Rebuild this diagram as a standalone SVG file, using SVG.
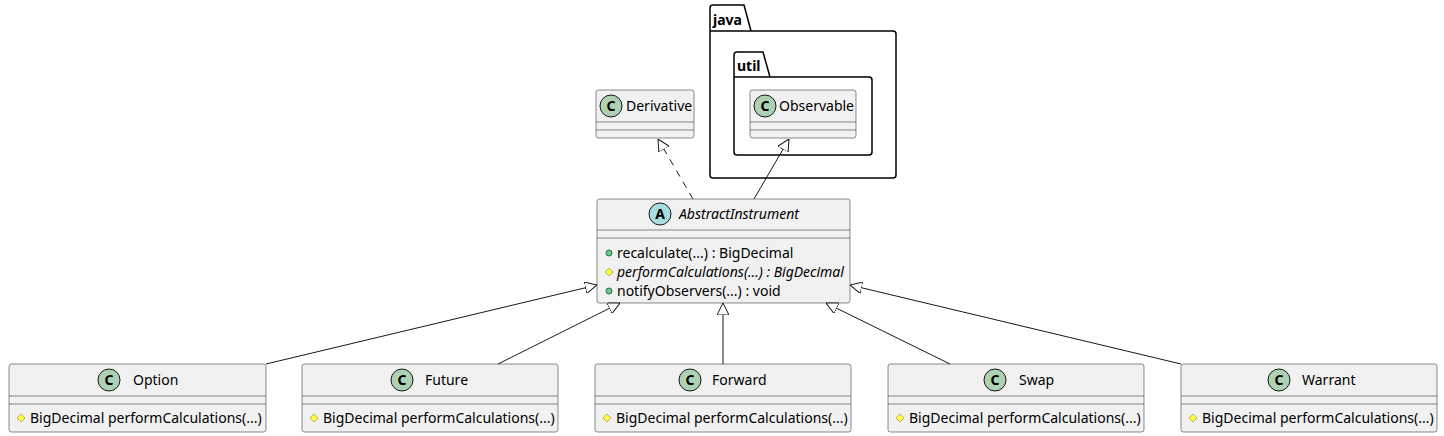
<svg xmlns="http://www.w3.org/2000/svg" width="1444" height="436" viewBox="0 0 1444 436">
<style>
text{font-family:"Noto Sans","DejaVu Sans",sans-serif;font-size:14px;fill:#000}
.box{fill:#f1f1f1;stroke:#181818;stroke-width:0.5}
.sep{stroke:#181818;stroke-width:0.5}
.pkg{fill:none;stroke:#000;stroke-width:1.5}
.cc{fill:#add1b2;stroke:#181818;stroke-width:1}
.ca{fill:#a9dcdf;stroke:#181818;stroke-width:1}
.e{stroke:#181818;stroke-width:1;fill:none}
.ah{fill:#fff;stroke:#181818;stroke-width:1}
.pub{fill:#84be84;stroke:#038048;stroke-width:1}
.pro{fill:#ffff44;stroke:#c1b050;stroke-width:1}
.lt{font-weight:bold;font-family:"Noto Sans",sans-serif}
</style>
<defs>
<marker id="tri" viewBox="0 0 12 12" refX="12" refY="6" markerWidth="12" markerHeight="12" markerUnits="userSpaceOnUse" orient="auto"><path d="M0,0 L12,6 L0,12 Z" class="ah"/></marker>
</defs>
<g id="pkg-java">
<path class="pkg" d="M710,31 L710,8 Q710,5 713,5 L744,5 L751,31 L893,31 Q896,31 896,34 L896,175 Q896,178 893,178 L713,178 Q710,178 710,175 Z M710,31 L751,31"/>
<text class="lt" x="713" y="25">java</text>
</g>
<g id="pkg-util">
<path class="pkg" d="M734,77 L734,55 Q734,52 737,52 L763,52 L770,77 L869,77 Q872,77 872,80 L872,152 Q872,155 869,155 L737,155 Q734,155 734,152 Z M734,77 L770,77"/>
<text class="lt" x="737" y="71">util</text>
</g>
<g id="Derivative">
<rect class="box" x="596" y="90" width="98" height="48" rx="2.5"/>
<circle class="cc" cx="611" cy="106" r="11"/><text x="611" y="111" text-anchor="middle" font-weight="bold">C</text>
<text x="626" y="111">Derivative</text>
<line class="sep" x1="596" y1="122" x2="694" y2="122"/><line class="sep" x1="596" y1="130" x2="694" y2="130"/>
</g>
<g id="Observable">
<rect class="box" x="750" y="90" width="106" height="48" rx="2.5"/>
<circle class="cc" cx="765" cy="106" r="11"/><text x="765" y="111" text-anchor="middle" font-weight="bold">C</text>
<text x="779" y="111">Observable</text>
<line class="sep" x1="750" y1="122" x2="856" y2="122"/><line class="sep" x1="750" y1="130" x2="856" y2="130"/>
</g>
<g id="AbstractInstrument">
<rect class="box" x="597" y="199" width="253" height="104" rx="2.5"/>
<circle class="ca" cx="660" cy="214" r="11"/><text x="660" y="219" text-anchor="middle" font-weight="bold">A</text>
<text x="679" y="219" font-style="italic">AbstractInstrument</text>
<line class="sep" x1="597" y1="230" x2="850" y2="230"/><line class="sep" x1="597" y1="238" x2="850" y2="238"/>
<circle class="pub" cx="609" cy="253" r="3"/><text x="617" y="258">recalculate(...) : BigDecimal</text>
<path class="pro" d="M609,268 L613,272 L609,276 L605,272 Z"/><text x="617" y="277" font-style="italic">performCalculations(...) : BigDecimal</text>
<circle class="pub" cx="609" cy="291" r="3"/><text x="617" y="296">notifyObservers(...) : void</text>
</g>
<g id="Option">
<rect class="box" x="9" y="364" width="257" height="68" rx="2.5"/>
<circle class="cc" cx="109" cy="380" r="11"/><text x="109" y="385" text-anchor="middle" font-weight="bold">C</text>
<text x="133" y="385">Option</text>
<line class="sep" x1="9" y1="396" x2="266" y2="396"/><line class="sep" x1="9" y1="404" x2="266" y2="404"/>
<path class="pro" d="M21,414 L25,418 L21,422 L17,418 Z"/><text x="30" y="423">BigDecimal performCalculations(...)</text>
</g>
<g id="Future">
<rect class="box" x="302" y="364" width="256" height="68" rx="2.5"/>
<circle class="cc" cx="402" cy="380" r="11"/><text x="402" y="385" text-anchor="middle" font-weight="bold">C</text>
<text x="425" y="385">Future</text>
<line class="sep" x1="302" y1="396" x2="558" y2="396"/><line class="sep" x1="302" y1="404" x2="558" y2="404"/>
<path class="pro" d="M314,414 L318,418 L314,422 L310,418 Z"/><text x="323" y="423">BigDecimal performCalculations(...)</text>
</g>
<g id="Forward">
<rect class="box" x="595" y="364" width="256" height="68" rx="2.5"/>
<circle class="cc" cx="690" cy="380" r="11"/><text x="690" y="385" text-anchor="middle" font-weight="bold">C</text>
<text x="712" y="385">Forward</text>
<line class="sep" x1="595" y1="396" x2="851" y2="396"/><line class="sep" x1="595" y1="404" x2="851" y2="404"/>
<path class="pro" d="M607,414 L611,418 L607,422 L603,418 Z"/><text x="616" y="423">BigDecimal performCalculations(...)</text>
</g>
<g id="Swap">
<rect class="box" x="888" y="364" width="256" height="68" rx="2.5"/>
<circle class="cc" cx="995" cy="380" r="11"/><text x="995" y="385" text-anchor="middle" font-weight="bold">C</text>
<text x="1019" y="385">Swap</text>
<line class="sep" x1="888" y1="396" x2="1144" y2="396"/><line class="sep" x1="888" y1="404" x2="1144" y2="404"/>
<path class="pro" d="M900,414 L904,418 L900,422 L896,418 Z"/><text x="909" y="423">BigDecimal performCalculations(...)</text>
</g>
<g id="Warrant">
<rect class="box" x="1181" y="364" width="256" height="68" rx="2.5"/>
<circle class="cc" cx="1279" cy="380" r="11"/><text x="1279" y="385" text-anchor="middle" font-weight="bold">C</text>
<text x="1302" y="385">Warrant</text>
<line class="sep" x1="1181" y1="396" x2="1437" y2="396"/><line class="sep" x1="1181" y1="404" x2="1437" y2="404"/>
<path class="pro" d="M1193,414 L1197,418 L1193,422 L1189,418 Z"/><text x="1202" y="423">BigDecimal performCalculations(...)</text>
</g>
<g id="connectors">
<line class="e" x1="693" y1="199" x2="658" y2="139" stroke-dasharray="7,6" marker-end="url(#tri)"/>
<line class="e" x1="754" y1="199" x2="789" y2="139" marker-end="url(#tri)"/>
<line class="e" x1="266" y1="364" x2="597" y2="285" marker-end="url(#tri)"/>
<line class="e" x1="498" y1="364" x2="620" y2="303" marker-end="url(#tri)"/>
<line class="e" x1="723" y1="364" x2="723" y2="303" marker-end="url(#tri)"/>
<line class="e" x1="950" y1="364" x2="826" y2="303" marker-end="url(#tri)"/>
<line class="e" x1="1181" y1="364" x2="850" y2="285" marker-end="url(#tri)"/>
</g>
</svg>
